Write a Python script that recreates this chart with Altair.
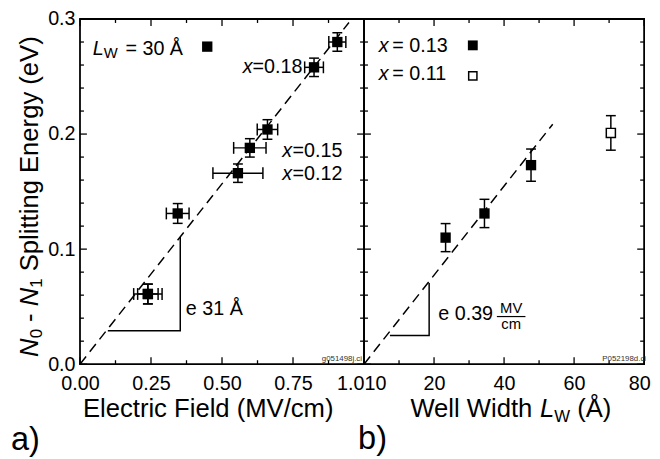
import altair as alt
import pandas as pd

FONT = "Liberation Sans"

# ---------------- panel a) : splitting vs electric field ----------------
field = [0.906, 0.824, 0.660, 0.598, 0.556, 0.344, 0.239, 0.239]
field_err = [0.030, 0.033, 0.036, 0.057, 0.088, 0.040, 0.050, 0.036]
split_a = [0.280, 0.258, 0.204, 0.188, 0.166, 0.131, 0.061, 0.061]
split_a_err = [0.008, 0.008, 0.0085, 0.008, 0.008, 0.0086, 0.0086, 0.0086]
fit_a_x = [0.0, 0.947]
fit_a_y = [0.0, 0.297]
tri_a_x = [0.098, 0.353, 0.353]
tri_a_y = [0.029, 0.029, 0.1106]

# ---------------- panel b) : splitting vs well width ----------------
well = [23.3, 34.4, 47.7]
split_b = [0.110, 0.131, 0.173]
split_b_err = [0.0122, 0.0123, 0.014]
well_open = [70.5]
split_open = [0.201]
split_open_err = [0.015]
fit_b_x = [0.0, 53.9]
fit_b_y = [0.0, 0.2086]
tri_b_x = [7.4, 18.6, 18.6]
tri_b_y = [0.0249, 0.0249, 0.0706]

# ---------------- ticks ----------------
xa_major = [0, 0.25, 0.5, 0.75, 1.0]
xa_minor = [0.125, 0.375, 0.625, 0.875]
xb_major = [0, 20, 40, 60, 80]
xb_minor = [10, 30, 50, 70]
y_major = [0.0, 0.1, 0.2, 0.3]
y_minor = [0.02, 0.04, 0.06, 0.08, 0.12, 0.14, 0.16, 0.18, 0.22, 0.24, 0.26, 0.28]

# ---------------- annotations (data coordinates) ----------------
ann_a_text = ["= 30 Å", "=0.18", "=0.15", "=0.12", "e 31 Å"]
ann_a_x = [0.160, 0.6076, 0.7483, 0.7483, 0.3727]
ann_a_y = [0.2691, 0.2529, 0.1800, 0.1600, 0.0429]
ann_a_it_text = ["L", "x", "x", "x"]
ann_a_it_x = [0.0451, 0.573, 0.7118, 0.7118]
ann_a_it_y = [0.2691, 0.2529, 0.1800, 0.1600]
ann_a_sub_text = ["W"]
ann_a_sub_x = [0.0837]
ann_a_sub_y = [0.2657]
leg_a_x = [0.448]
leg_a_y = [0.276]

ann_b_text = ["= 0.13", "= 0.11", "e 0.39"]
ann_b_x = [8.08, 8.08, 21.2]
ann_b_y = [0.2714, 0.2466, 0.0386]
ann_b_it_text = ["x", "x"]
ann_b_it_x = [4.23, 4.23]
ann_b_it_y = [0.2714, 0.2466]
frac_num, frac_den = ["MV"], ["cm"]
frac_x = [42.03]
frac_num_y, frac_den_y = [0.0423], [0.0405]
frac_line_x = [37.94, 46.11]
frac_line_y = [0.0414]
leg_b_fill_x, leg_b_fill_y = [31.07], [0.2771]
leg_b_open_x, leg_b_open_y = [31.07], [0.2506]

W_A, W_B, H = 288, 284, 350
TF = 26  # title font size
xa = alt.Scale(domain=[0, 1], nice=False, zero=False)
xb = alt.Scale(domain=[0, 80], nice=False, zero=False)
ys = alt.Scale(domain=[0, 0.3], nice=False, zero=False)
one = pd.DataFrame({"a": [0]})


def X(f, s):
    return alt.X(f, scale=s)


def Y(f):
    return alt.Y(f, scale=ys)


def txt(text, x, y, size, italic=False, angle=0, align="left", baseline="alphabetic", color="black"):
    return alt.Chart(one).mark_text(
        font=FONT, fontSize=size, fontStyle="italic" if italic else "normal",
        angle=angle, align=align, baseline=baseline, color=color
    ).encode(x=alt.value(x), y=alt.value(y), text=alt.value(text))


def tick_rules(xmaj, xmin, xscale, w):
    layers = []
    for vals, L in ((xmaj, 7), (xmin, 4)):
        c = alt.Chart(pd.DataFrame({"v": vals})).mark_rule(color="black", strokeWidth=1.3)
        layers.append(c.encode(x=X("v:Q", xscale), y=alt.value(0), y2=alt.value(L)))
        layers.append(c.encode(x=X("v:Q", xscale), y=alt.value(H), y2=alt.value(H - L)))
    for vals, L in ((y_major, 7), (y_minor, 4)):
        c = alt.Chart(pd.DataFrame({"v": vals})).mark_rule(color="black", strokeWidth=1.3)
        layers.append(c.encode(y=Y("v:Q"), x=alt.value(0), x2=alt.value(L)))
        layers.append(c.encode(y=Y("v:Q"), x=alt.value(w), x2=alt.value(w - L)))
    return layers


def text_layer(texts, xs, ys_, xscale, size, italic=False, align="left", baseline="alphabetic"):
    d = pd.DataFrame({"t": texts, "x": xs, "y": ys_})
    return alt.Chart(d).mark_text(
        font=FONT, fontSize=size, fontStyle="italic" if italic else "normal",
        align=align, baseline=baseline, color="black"
    ).encode(x=X("x:Q", xscale), y=Y("y:Q"), text="t:N")


def line_layer(xs, ys_, xscale, dash=None):
    d = pd.DataFrame({"x": xs, "y": ys_, "o": list(range(len(xs)))})
    kw = dict(color="black", strokeWidth=1.5)
    if dash:
        kw["strokeDash"] = dash
    return alt.Chart(d).mark_line(**kw).encode(x=X("x:Q", xscale), y=Y("y:Q"), order="o:Q")


common = dict(ticks=False, tickSize=0, domain=False, grid=False, labelFlush=False,
              labelOverlap=False, title=None, labelFontSize=20, labelFont=FONT, labelColor="black")

y_axis = alt.Axis(values=y_major, format=".1f", labelPadding=5, **common)
y_axis_b = alt.Axis(values=y_major, labels=False, **common)

xa_axis = alt.Axis(values=xa_major, labelExpr="datum.value == 1 ? '1.0' : format(datum.value, '.2f')",
                   labelAlign={"condition": {"test": "datum.value == 1", "value": "right"}, "value": "center"},
                   labelPadding=10, **common)

xb_axis = alt.Axis(values=xb_major,
                   labelExpr="datum.value == 0 ? '\u00a010' : (datum.value == 80 ? '' : format(datum.value, 'd'))",
                   labelAlign={"condition": {"test": "datum.value == 0", "value": "left"}, "value": "center"},
                   labelPadding=10, **common)

# ---------- panel a layers ----------
df_a = pd.DataFrame({"f": field, "e": split_a, "fe": field_err, "ee": split_a_err})
df_a["flo"] = df_a["f"] - df_a["fe"]
df_a["fhi"] = df_a["f"] + df_a["fe"]
df_a["elo"] = df_a["e"] - df_a["ee"]
df_a["ehi"] = df_a["e"] + df_a["ee"]
ba = alt.Chart(df_a)

# rotated y title pieces (start positions along the text, reading upward)
yt_base, yt_sub = -43, -39

a_layers = [
    # base layer carrying the axes
    ba.mark_rule(color="black", strokeWidth=1.5).encode(
        x=alt.X("f:Q", scale=xa, axis=xa_axis), y=alt.Y("elo:Q", scale=ys, axis=y_axis), y2="ehi:Q"),
] + tick_rules(xa_major, xa_minor, xa, W_A) + [
    line_layer(fit_a_x, fit_a_y, xa, dash=[10, 6]),
    line_layer(tri_a_x, tri_a_y, xa),
    ba.mark_rule(color="black", strokeWidth=1.5).encode(y=Y("e:Q"), x=X("flo:Q", xa), x2="fhi:Q"),
    ba.mark_tick(orient="horizontal", size=10, thickness=1.5, color="black", opacity=1).encode(x=X("f:Q", xa), y=Y("elo:Q")),
    ba.mark_tick(orient="horizontal", size=10, thickness=1.5, color="black", opacity=1).encode(x=X("f:Q", xa), y=Y("ehi:Q")),
    ba.mark_tick(orient="vertical", size=12, thickness=1.5, color="black", opacity=1).encode(x=X("flo:Q", xa), y=Y("e:Q")),
    ba.mark_tick(orient="vertical", size=12, thickness=1.5, color="black", opacity=1).encode(x=X("fhi:Q", xa), y=Y("e:Q")),
    ba.mark_square(size=110, color="black", opacity=1).encode(x=X("f:Q", xa), y=Y("e:Q")),
    alt.Chart(pd.DataFrame({"x": leg_a_x, "y": leg_a_y})).mark_square(size=110, color="black", opacity=1).encode(
        x=X("x:Q", xa), y=Y("y:Q")),
    text_layer(ann_a_text, ann_a_x, ann_a_y, xa, 20),
    text_layer(ann_a_it_text, ann_a_it_x, ann_a_it_y, xa, 20, italic=True),
    text_layer(ann_a_sub_text, ann_a_sub_x, ann_a_sub_y, xa, 15),
    txt("g051498j.ci", 286, 347, 8, color="#333333", align="right"),
    # axis titles
    txt("Electric Field (MV/cm)", 130, 404, TF, align="center"),
    txt("N", yt_base, 342.6, TF, italic=True, angle=270),
    txt("0", yt_sub, 323.8, 17, angle=270),
    txt("-", yt_base, 307.2, TF, angle=270),
    txt("N", yt_base, 291.3, TF, italic=True, angle=270),
    txt("1", yt_sub, 272.5, 17, angle=270),
    txt("Splitting Energy (eV)", yt_base, 255.8, TF, angle=270),
    txt("a)", -70, 437, 33),
]
panel_a = alt.layer(*a_layers).properties(width=W_A, height=H)

# ---------- panel b layers ----------
df_b = pd.DataFrame({"w": well, "e": split_b, "ee": split_b_err})
df_b["elo"] = df_b["e"] - df_b["ee"]
df_b["ehi"] = df_b["e"] + df_b["ee"]
df_o = pd.DataFrame({"w": well_open, "e": split_open, "ee": split_open_err})
df_o["elo"] = df_o["e"] - df_o["ee"]
df_o["ehi"] = df_o["e"] + df_o["ee"]
bb = alt.Chart(df_b)
bo = alt.Chart(df_o)

b_layers = [
    bb.mark_rule(color="black", strokeWidth=1.5).encode(
        x=alt.X("w:Q", scale=xb, axis=xb_axis), y=alt.Y("elo:Q", scale=ys, axis=y_axis_b), y2="ehi:Q"),
] + tick_rules(xb_major, xb_minor, xb, W_B) + [
    line_layer(fit_b_x, fit_b_y, xb, dash=[10, 6]),
    line_layer(tri_b_x, tri_b_y, xb),
    bo.mark_rule(color="black", strokeWidth=1.5).encode(x=X("w:Q", xb), y=Y("elo:Q"), y2="ehi:Q"),
]
for src in (bb, bo):
    b_layers += [
        src.mark_tick(orient="horizontal", size=10, thickness=1.5, color="black", opacity=1).encode(x=X("w:Q", xb), y=Y("elo:Q")),
        src.mark_tick(orient="horizontal", size=10, thickness=1.5, color="black", opacity=1).encode(x=X("w:Q", xb), y=Y("ehi:Q")),
    ]
b_layers += [
    bb.mark_square(size=110, color="black", opacity=1).encode(x=X("w:Q", xb), y=Y("e:Q")),
    bo.mark_square(size=85, fill="white", stroke="black", strokeWidth=1.5, opacity=1, filled=True).encode(
        x=X("w:Q", xb), y=Y("e:Q")),
    alt.Chart(pd.DataFrame({"x": leg_b_fill_x, "y": leg_b_fill_y})).mark_square(size=100, color="black", opacity=1).encode(
        x=X("x:Q", xb), y=Y("y:Q")),
    alt.Chart(pd.DataFrame({"x": leg_b_open_x, "y": leg_b_open_y})).mark_square(
        size=70, fill="white", stroke="black", strokeWidth=1.5, opacity=1, filled=True).encode(x=X("x:Q", xb), y=Y("y:Q")),
    text_layer(ann_b_text, ann_b_x, ann_b_y, xb, 20),
    text_layer(ann_b_it_text, ann_b_it_x, ann_b_it_y, xb, 20, italic=True),
    text_layer(frac_num, frac_x, frac_num_y, xb, 15, align="center", baseline="bottom"),
    text_layer(frac_den, frac_x, frac_den_y, xb, 15, align="center", baseline="top"),
    alt.Chart(pd.DataFrame({"x": [frac_line_x[0]], "x2": [frac_line_x[1]], "y": frac_line_y})).mark_rule(
        color="black", strokeWidth=1.2).encode(x=X("x:Q", xb), x2="x2:Q", y=Y("y:Q")),
    # last tick label placed through the scale
    alt.Chart(pd.DataFrame({"v": [80], "t": ["80"]})).mark_text(
        font=FONT, fontSize=20, align="center", baseline="top", dx=-4.5, dy=10, color="black").encode(
        x=X("v:Q", xb), y=alt.value(H), text="t:N"),
    txt("P052198d.ci", 286, 347, 8, color="#333333", align="right"),
    txt("Well Width", 47.0, 404, TF),
    txt("L", 178.5, 404, TF, italic=True),
    txt("W", 193.0, 409, 17),
    txt("(Å)", 216.2, 404, TF),
    txt("b)", -6, 436, 33),
]
panel_b = alt.layer(*b_layers).properties(width=W_B, height=H)

chart = alt.hconcat(panel_a, panel_b, spacing=0, bounds="flush").properties(
    padding={"left": 2, "top": -3, "right": 0, "bottom": 0},
    background="white",
).configure_view(stroke="black", strokeWidth=1.8)

chart.save("out.html", embed_options={"renderer": "svg", "actions": False})
